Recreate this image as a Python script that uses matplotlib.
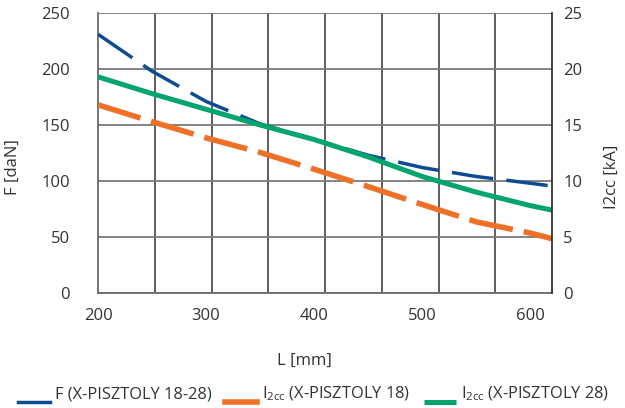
import numpy as np
import matplotlib
matplotlib.use("Agg")
import matplotlib.pyplot as plt
from matplotlib.font_manager import fontManager

names = {f.name for f in fontManager.ttflist}
fam = ["Open Sans", "DejaVu Sans"]
plt.rcParams["font.family"] = [f for f in fam if f in names] or ["DejaVu Sans"]
plt.rcParams["mathtext.default"] = "regular"
plt.rcParams["lines.scale_dashes"] = False

L_mm = [200, 250, 300, 350, 400, 450, 500, 550, 600, 620]
F_daN = [231, 198, 171, 151, 137, 123, 112, 104, 98, 95.5]
I2cc_18 = [16.8, 15.3, 13.85, 12.55, 11.05, 9.5, 7.9, 6.35, 5.35, 4.85]
I2cc_28 = [19.3, 17.8, 16.4, 15.0, 13.7, 12.15, 10.4, 9.0, 7.8, 7.4]

blue = "#0d4b91"
orange = "#f07028"
green = "#00a56e"
txt = "#333333"

fig = plt.figure(figsize=(6.25, 4.08), dpi=100)
ax = fig.add_axes([98 / 625, 1 - 293 / 408, 454 / 625, 280 / 408])
ax2 = ax.twinx()

ax.set_xlim(200, 620)
ax.set_ylim(0, 250)
ax2.set_ylim(0, 25)
ax.set_xticks([200, 300, 400, 500, 600])
ax.set_yticks(range(0, 251, 50))
ax2.set_yticks(range(0, 26, 5))

# vertical grid: 8 equal divisions of the L range
for x in np.linspace(200, 620, 9)[1:-1]:
    ax.axvline(x, color="#333333", lw=1.1, zorder=0)
ax.grid(axis="y", color="#7a7a7a", lw=1.3, zorder=0)

for a in (ax, ax2):
    a.tick_params(length=0, labelsize=12, colors=txt)
    for s in a.spines.values():
        s.set_visible(False)
for s in ("left", "bottom"):
    ax.spines[s].set_visible(True)
    ax.spines[s].set_color("#6a6a6a")
    ax.spines[s].set_linewidth(1.3)
ax2.spines["right"].set_visible(True)
ax2.spines["right"].set_color("#222222")
ax2.spines["right"].set_linewidth(1.2)
ax.tick_params(axis="y", pad=20)
ax.tick_params(axis="x", pad=11)
ax2.tick_params(axis="y", pad=8)

l1, = ax.plot(L_mm, F_daN, color=blue, lw=2.5, dashes=(30, 9.5),
              dash_capstyle="butt", zorder=3,
              label="F (X-PISZTOLY 18-28)")
l2, = ax2.plot(L_mm, I2cc_18, color=orange, lw=4, dashes=(32, 8),
               dash_capstyle="butt", zorder=2,
               label="I$_{2cc}$ (X-PISZTOLY 18)")
l3, = ax2.plot(L_mm, I2cc_28, color=green, lw=3.6, solid_capstyle="butt",
               zorder=1, label="I$_{2cc}$ (X-PISZTOLY 28)")

ax.set_xlabel("L [mm]", fontsize=12, color=txt)
ax.xaxis.set_label_coords(0.455, -0.212)
ax.set_ylabel("F [daN]", fontsize=12, color=txt)
ax.yaxis.set_label_coords(-0.17, 0.45)
ax2.set_ylabel("I2cc [kA]", fontsize=12, color=txt, rotation=90)
ax2.yaxis.set_label_coords(1.115, 0.415)

leg = fig.legend(handles=[l1, l2, l3], loc="lower left", ncol=3,
                 bbox_to_anchor=(0.005, -0.025), frameon=False, fontsize=11.8,
                 handlelength=1.95, handletextpad=0.3, columnspacing=0.85,
                 labelcolor=txt)
for h in leg.legend_handles:
    h.set_linestyle("-")
    h.set_ydata(np.full(len(h.get_xdata()), -2.5))

fig.savefig("out.png", dpi=100)
